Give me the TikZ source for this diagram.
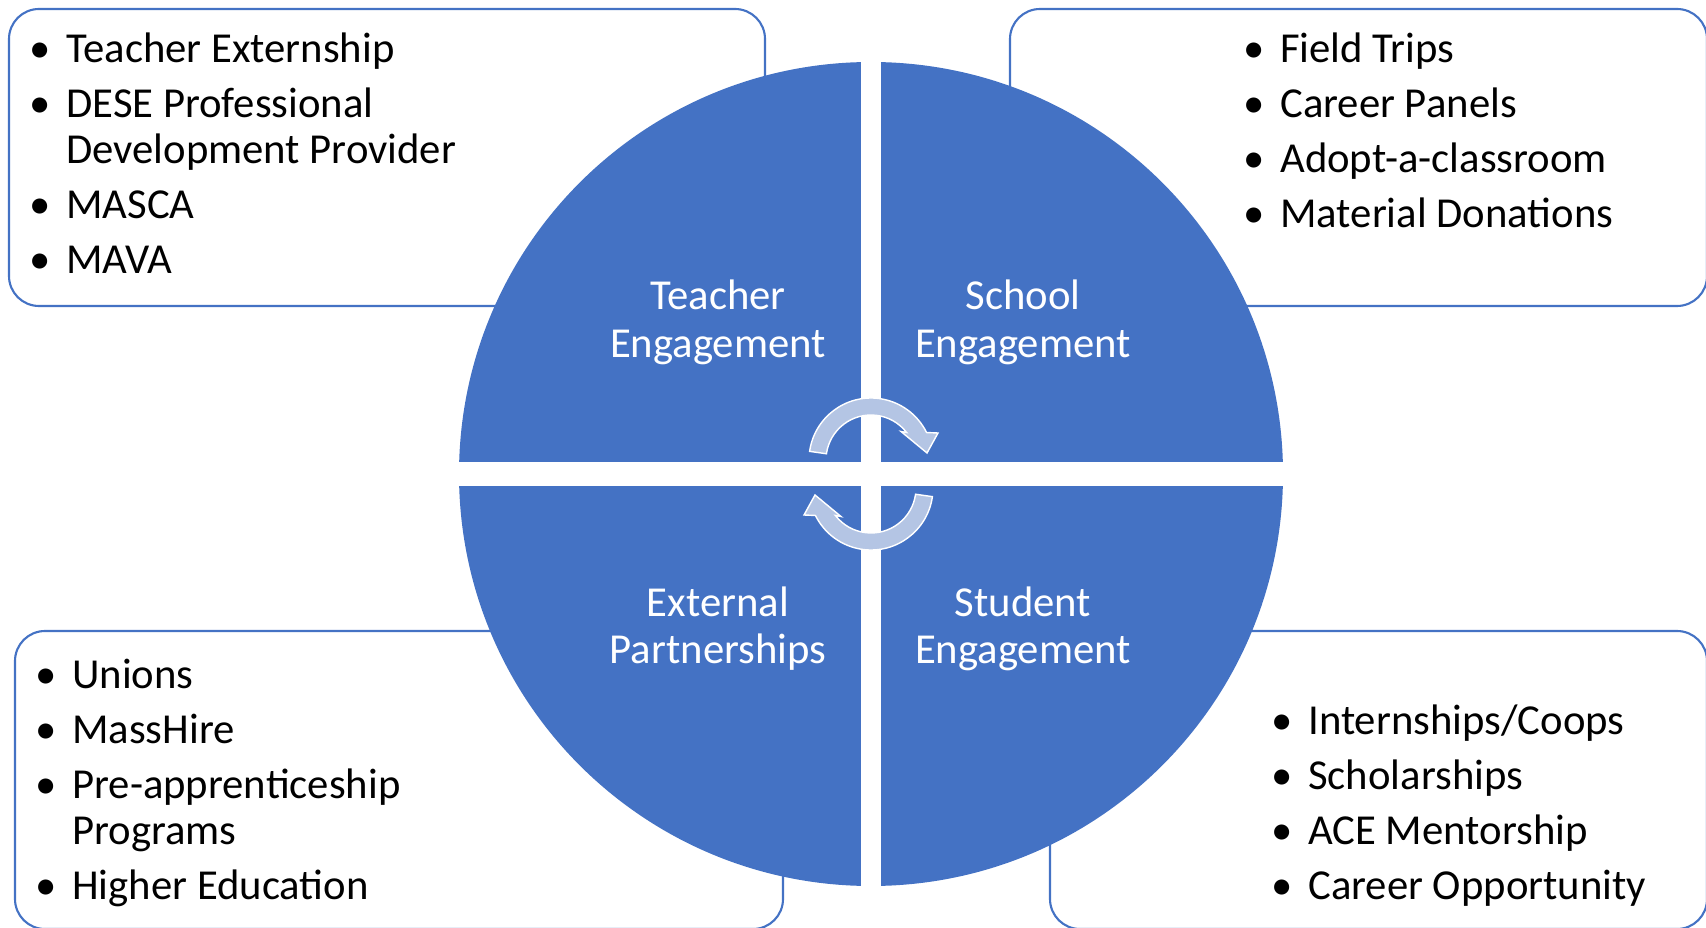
\documentclass[tikz,border=0pt]{standalone}
\usepackage{fontspec}
\setmainfont{Carlito}
\usepackage{tikz}
\usetikzlibrary{positioning}
\definecolor{quadblue}{RGB}{68,114,196}
\definecolor{arrowblue}{RGB}{180,197,228}
\newcommand{\bul}{\makebox[0.73cm][l]{\textbullet}}
\newcommand{\nobul}{\hspace*{0.73cm}}
\tikzset{
    infobox/.style={draw=quadblue, line width=1.2pt, rounded corners=0.6cm, fill=white},
    itemlist/.style={anchor=base west, inner sep=0pt, font=\fontsize{24.3}{26.2}\selectfont, text=black},
    quadlabel/.style={anchor=base, inner sep=0pt, font=\fontsize{24.3}{27.3}\selectfont, text=white},
    quadrant/.style={fill=quadblue},
    cyclearrow/.style={fill=arrowblue, draw=white, line width=0.8pt, line join=miter},
    cycarrow/.pic={
        \path[cyclearrow] (172:62) arc[start angle=172, end angle=26.3, radius=62]
            -- (67,27) -- (56,7) -- (30,28.5) -- (35.6,27.5)
            arc[start angle=37.7, end angle=172, radius=45] -- cycle;
    }
}

\begin{document}
\begin{tikzpicture}[x=0.02cm, y=0.02cm]
        \useasboundingbox (0,0) rectangle (1706,927);
        \clip (0,0) rectangle (1706,927);

        % Boxes behind the circle
        \draw[infobox] (9,621) rectangle (765,918); % top left
        \draw[infobox] (1010,621) rectangle (1707,918); % top right
        \draw[infobox] (15,-2) rectangle (783,296); % bottom left
        \draw[infobox] (1050,-2) rectangle (1707,296); % bottom right

        % Lists
        \node[itemlist] (teacherlist) at (29.5,864.5) {\begin{tabular}[t]{@{}l@{}}
            \bul Teacher Externship\\[0.18cm]
            \bul DESE Professional\\
            \nobul Development Provider\\[0.18cm]
            \bul MASCA\\[0.18cm]
            \bul MAVA
        \end{tabular}};
        \node[itemlist] (schoollist) at (1243.5,864.5) {\begin{tabular}[t]{@{}l@{}}
            \bul Field Trips\\[0.18cm]
            \bul Career Panels\\[0.18cm]
            \bul Adopt-a-classroom\\[0.18cm]
            \bul Material Donations
        \end{tabular}};
        \node[itemlist] (externallist) at (35.5,239) {\begin{tabular}[t]{@{}l@{}}
            \bul Unions\\[0.18cm]
            \bul MassHire\\[0.18cm]
            \bul Pre-apprenticeship\\
            \nobul Programs\\[0.18cm]
            \bul Higher Education
        \end{tabular}};
        \node[itemlist] (studentlist) at (1271.5,193) {\begin{tabular}[t]{@{}l@{}}
            \bul Internships/Coops\\[0.18cm]
            \bul Scholarships\\[0.18cm]
            \bul ACE Mentorship\\[0.18cm]
            \bul Career Opportunity
        \end{tabular}};

        % Circle in four quadrants
        \begin{scope}
            \clip (871,453) circle[radius=412];
            \fill[quadrant] (440,465) rectangle (861,880);
            \fill[quadrant] (881,465) rectangle (1300,880);
            \fill[quadrant] (440,441) rectangle (861,30);
            \fill[quadrant] (881,441) rectangle (1300,30);
        \end{scope}

        \node[quadlabel] (teacher) at (718,617) {\begin{tabular}[t]{@{}c@{}}Teacher\\Engagement\end{tabular}};
        \node[quadlabel] (school) at (1023,617) {\begin{tabular}[t]{@{}c@{}}School\\Engagement\end{tabular}};
        \node[quadlabel] (external) at (718,311) {\begin{tabular}[t]{@{}c@{}}External\\Partnerships\end{tabular}};
        \node[quadlabel] (student) at (1023,311) {\begin{tabular}[t]{@{}c@{}}Student\\Engagement\end{tabular}};

        % Cycle arrows
        \pic (toparrow) at (871,467) {cycarrow};
        \pic[rotate=180] (botarrow) at (871,439) {cycarrow};

    \end{tikzpicture}
\end{document}
